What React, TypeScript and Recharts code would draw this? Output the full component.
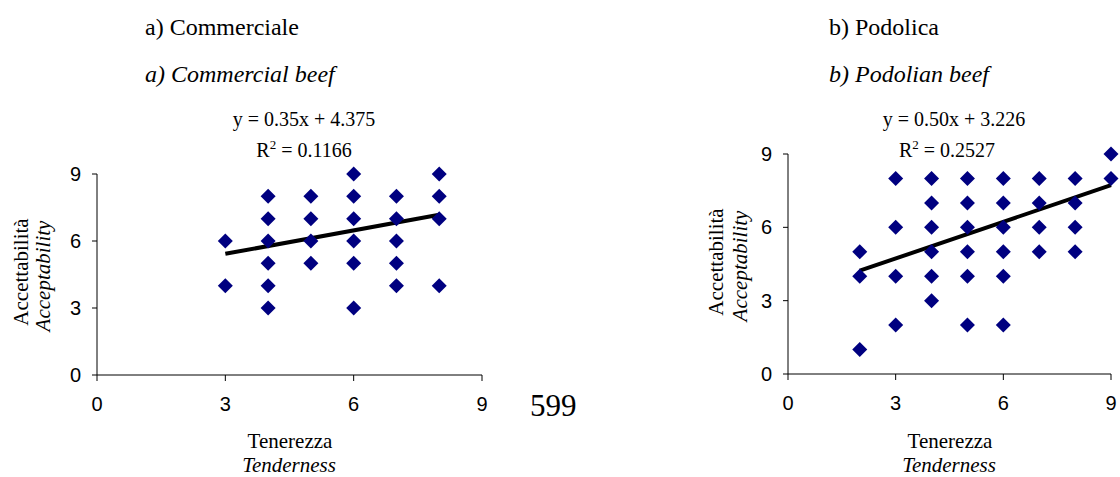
import React from "react";
import { ScatterChart, Scatter, XAxis, YAxis, ReferenceLine } from "recharts";

// Tenerezza (x) e accettabilità (y) — carne commerciale
const tenerezzaComm = [3, 3, 4, 4, 4, 4, 4, 4, 5, 5, 5, 5, 6, 6, 6, 6, 6, 6, 7, 7, 7, 7, 7, 8, 8, 8, 8];
const accettComm = [6, 4, 8, 7, 6, 5, 4, 3, 8, 7, 6, 5, 9, 8, 7, 6, 5, 3, 8, 7, 6, 5, 4, 9, 8, 7, 4];

// Tenerezza (x) e accettabilità (y) — carne podolica
const tenerezzaPod = [2, 2, 2, 3, 3, 3, 3, 4, 4, 4, 4, 4, 4, 5, 5, 5, 5, 5, 5, 6, 6, 6, 6, 6, 6, 7, 7, 7, 7, 8, 8, 8, 8, 9, 9];
const accettPod = [5, 4, 1, 8, 6, 4, 2, 8, 7, 6, 5, 4, 3, 8, 7, 6, 5, 4, 2, 8, 7, 6, 5, 4, 2, 8, 7, 6, 5, 8, 7, 6, 5, 9, 8];

// Retta di regressione (estremi)
const trendComm = [{ x: 3, y: 5.425 }, { x: 8, y: 7.175 }];
const trendPod = [{ x: 2, y: 4.226 }, { x: 9, y: 7.726 }];

const ticks = [0, 3, 6, 9];

const toPoints = (xs: number[], ys: number[]) => xs.map((x, i) => ({ x, y: ys[i] }));

const SERIF = "'Liberation Serif', 'Times New Roman', serif";
const SANS = "'Liberation Sans', Arial, sans-serif";

const Diamond = (props: any) => {
  const { cx, cy } = props;
  const r = 7.5;
  return (
    <polygon
      points={`${cx},${cy - r} ${cx + r},${cy} ${cx},${cy + r} ${cx - r},${cy}`}
      fill="#000080"
    />
  );
};

// testo serif in stile Word
const T = ({ italic, size = 21, style, ...rest }: any) => (
  <text
    fill="#000"
    fontSize={size}
    style={{ fontFamily: SERIF, fontStyle: italic ? "italic" : "normal", ...style }}
    {...rest}
  />
);

function Pannello({ data, trend, margin }: { data: { x: number; y: number }[]; trend: { x: number; y: number }[]; margin: any }) {
  return (
    <ScatterChart width={560} height={477} margin={margin}>
      <XAxis
        type="number"
        dataKey="x"
        domain={[0, 9]}
        ticks={ticks}
        tickSize={6}
        tickMargin={16}
        height={30}
        stroke="#000"
        tick={{ fill: "#000", fontSize: 20, fontFamily: SANS }}
      />
      <YAxis
        type="number"
        dataKey="y"
        domain={[0, 9]}
        ticks={ticks}
        tickSize={5}
        tickMargin={11}
        width={60}
        stroke="#000"
        tick={{ fill: "#000", fontSize: 20, fontFamily: SANS }}
      />
      <Scatter data={data} shape={<Diamond />} isAnimationActive={false} />
      <ReferenceLine segment={trend} stroke="#000" strokeWidth={4} ifOverflow="visible" />
    </ScatterChart>
  );
}

export default function App() {
  return (
    <div style={{ position: "absolute", left: 0, top: 0, width: 1120, height: 477, background: "#fff", overflow: "hidden" }}>
      <div style={{ position: "absolute", left: 0, top: 0 }}>
        <Pannello
          data={toPoints(tenerezzaComm, accettComm)}
          trend={trendComm}
          margin={{ top: 174, right: 78, bottom: 72, left: 37 }}
        />
      </div>
      <div style={{ position: "absolute", left: 560, top: 0 }}>
        <Pannello
          data={toPoints(tenerezzaPod, accettPod)}
          trend={trendPod}
          margin={{ top: 154, right: 9, bottom: 73, left: 168 }}
        />
      </div>
      <svg width={1120} height={477} style={{ position: "absolute", left: 0, top: 0, pointerEvents: "none" }}>
        {/* titoli */}
        <T x={145} y={35} size={24}>a) Commerciale</T>
        <T x={145} y={82} size={24} italic>a) Commercial beef</T>
        <T x={829} y={35} size={24}>b) Podolica</T>
        <T x={829} y={82} size={24} italic>b) Podolian beef</T>

        {/* equazioni */}
        <T x={304} y={126} size={20} textAnchor="middle">y = 0.35x + 4.375</T>
        <T x={304} y={157} size={20} textAnchor="middle">
          R<tspan dy={-8} fontSize={13}>2</tspan><tspan dy={8}> = 0.1166</tspan>
        </T>
        <T x={954} y={126} size={20} textAnchor="middle">y = 0.50x + 3.226</T>
        <T x={947} y={157} size={20} textAnchor="middle">
          R<tspan dy={-8} fontSize={13}>2</tspan><tspan dy={8}> = 0.2527</tspan>
        </T>

        {/* assi y */}
        <T transform="translate(28,272) rotate(-90)" textAnchor="middle">Accettabilità</T>
        <T transform="translate(50,276) rotate(-90)" textAnchor="middle" italic>Acceptability</T>
        <T transform="translate(723,262) rotate(-90)" textAnchor="middle">Accettabilità</T>
        <T transform="translate(747,266) rotate(-90)" textAnchor="middle" italic>Acceptability</T>

        {/* assi x */}
        <T x={290} y={448} textAnchor="middle">Tenerezza</T>
        <T x={289} y={472} textAnchor="middle" italic>Tenderness</T>
        <T x={950} y={448} textAnchor="middle">Tenerezza</T>
        <T x={949} y={472} textAnchor="middle" italic>Tenderness</T>

        {/* numero di pagina */}
        <T x={530} y={416} size={31}>599</T>
      </svg>
    </div>
  );
}
